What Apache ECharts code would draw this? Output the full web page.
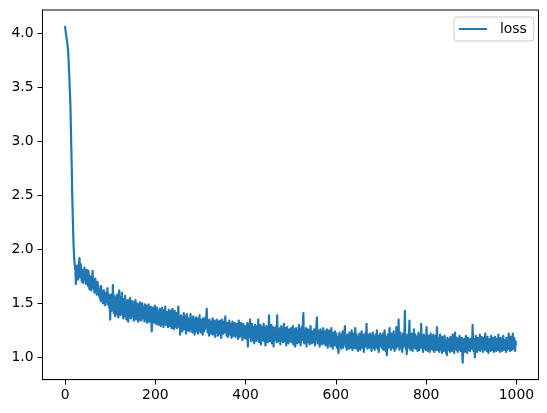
<!DOCTYPE html>
<html>
<head>
<meta charset="utf-8">
<script src="https://cdn.jsdelivr.net/npm/echarts@6.0.0/dist/echarts.min.js"></script>
<style>html,body{margin:0;padding:0;background:#fff;}#chart{width:547px;height:413px;}</style>
</head>
<body>
<div id="chart"></div>
<script>
const seriesName = "loss";
const xTicks = [0, 200, 400, 600, 800, 1000];
const yTicks = [1.0, 1.5, 2.0, 2.5, 3.0, 3.5, 4.0];

const loss000 = [4.06,4.03,4.00,3.97,3.94,3.91,3.87,3.82,3.74,3.64,3.54,3.43,3.32,3.12,2.92,2.72,2.50,2.32,2.16,2.03,1.94,1.88,1.84,1.80,1.68,
1.82,1.76,1.85,1.79,1.72,1.84,1.88,1.92,1.80,1.74,1.86,1.78,1.70,1.81,1.75,1.69,1.80,1.76,1.83,1.72,1.78,1.68,1.77,1.81,1.71,
1.74,1.66,1.80,1.70,1.63,1.75,1.68,1.72,1.62,1.69,1.74,1.80,1.67,1.64,1.71,1.60,1.66,1.73,1.62,1.68,1.58,1.65,1.70,1.61,1.66,
1.57,1.63,1.55,1.60,1.52,1.66,1.58,1.54,1.61,1.50,1.56,1.62,1.53,1.59,1.48,1.55,1.60,1.51,1.57,1.64,1.49,1.54,1.58,1.46,1.52];
const loss100 = [1.35,1.53,1.58,1.43,1.55,1.46,1.67,1.49,1.41,1.57,1.45,1.38,1.55,1.48,1.40,1.58,1.44,1.52,1.37,1.49,1.62,1.42,1.53,1.39,1.56,
1.45,1.60,1.41,1.51,1.36,1.54,1.43,1.38,1.57,1.44,1.52,1.35,1.49,1.40,1.53,1.33,1.46,1.51,1.37,1.55,1.42,1.36,1.50,1.39,1.52,
1.38,1.48,1.34,1.51,1.41,1.37,1.53,1.35,1.47,1.50,1.36,1.46,1.33,1.49,1.40,1.35,1.51,1.38,1.48,1.34,1.44,1.50,1.36,1.47,1.37,
1.46,1.33,1.49,1.39,1.35,1.48,1.41,1.32,1.46,1.37,1.49,1.38,1.33,1.45,1.36,1.47,1.39,1.24,1.40,1.46,1.34,1.44,1.32,1.41,1.48];
const loss200 = [1.35,1.44,1.31,1.40,1.46,1.33,1.42,1.30,1.41,1.33,1.45,1.37,1.29,1.42,1.34,1.46,1.31,1.40,1.28,1.38,1.44,1.32,1.47,1.30,1.39,
1.31,1.42,1.34,1.28,1.40,1.44,1.32,1.29,1.39,1.31,1.43,1.27,1.38,1.45,1.30,1.36,1.26,1.40,1.43,1.31,1.28,1.41,1.33,1.27,1.38,
1.41,1.47,1.33,1.28,1.37,1.21,1.31,1.39,1.27,1.36,1.24,1.37,1.30,1.41,1.26,1.35,1.28,1.38,1.22,1.33,1.40,1.29,1.25,1.36,1.28,
1.35,1.24,1.32,1.40,1.26,1.36,1.29,1.23,1.34,1.38,1.25,1.32,1.21,1.35,1.28,1.37,1.24,1.31,1.36,1.26,1.22,1.34,1.28,1.39,1.25];
const loss300 = [1.33,1.23,1.35,1.27,1.32,1.21,1.36,1.29,1.24,1.34,1.26,1.37,1.30,1.39,1.45,1.29,1.23,1.34,1.27,1.20,1.35,1.29,1.24,1.33,1.22,
1.32,1.26,1.36,1.21,1.30,1.25,1.34,1.28,1.19,1.32,1.25,1.35,1.23,1.31,1.20,1.33,1.27,1.22,1.34,1.25,1.31,1.18,1.29,1.35,1.23,
1.31,1.22,1.33,1.25,1.32,1.38,1.23,1.29,1.20,1.32,1.25,1.19,1.31,1.24,1.34,1.27,1.21,1.31,1.23,1.18,1.29,1.33,1.24,1.20,1.28,
1.22,1.32,1.19,1.27,1.30,1.21,1.31,1.24,1.17,1.28,1.34,1.22,1.19,1.30,1.24,1.32,1.20,1.27,1.16,1.25,1.31,1.21,1.29,1.18,1.26];
const loss400 = [1.22,1.29,1.17,1.27,1.32,1.10,1.24,1.30,1.19,1.28,1.35,1.20,1.15,1.27,1.31,1.21,1.16,1.28,1.23,1.13,1.26,1.30,1.18,1.27,1.15,
1.25,1.29,1.17,1.35,1.22,1.14,1.27,1.20,1.30,1.12,1.26,1.19,1.28,1.16,1.24,1.31,1.15,1.23,1.27,1.11,1.22,1.29,1.17,1.26,1.14,
1.23,1.28,1.39,1.19,1.15,1.26,1.20,1.30,1.13,1.25,1.18,1.28,1.10,1.23,1.27,1.16,1.25,1.19,1.29,1.14,1.39,1.21,1.26,1.15,1.24,
1.18,1.27,1.12,1.22,1.29,1.16,1.25,1.19,1.14,1.26,1.31,1.15,1.23,1.18,1.27,1.11,1.22,1.28,1.16,1.25,1.13,1.21,1.26,1.15,1.24];
const loss500 = [1.19,1.27,1.14,1.24,1.17,1.29,1.12,1.22,1.26,1.15,1.10,1.21,1.27,1.16,1.24,1.13,1.25,1.18,1.30,1.14,1.23,1.26,1.11,1.21,1.28,
1.16,1.24,1.32,1.41,1.18,1.13,1.25,1.19,1.15,1.27,1.10,1.22,1.17,1.26,1.14,1.24,1.18,1.12,1.25,1.29,1.15,1.21,1.13,1.24,1.17,
1.23,1.14,1.26,1.18,1.11,1.24,1.17,1.30,1.37,1.20,1.13,1.25,1.16,1.23,1.10,1.19,1.26,1.14,1.22,1.12,1.24,1.17,1.27,1.13,1.20,
1.16,1.24,1.11,1.21,1.15,1.26,1.17,1.09,1.23,1.16,1.25,1.13,1.20,1.10,1.22,1.27,1.14,1.19,1.08,1.23,1.13,1.21,1.11,1.24,1.16];
const loss600 = [1.13,1.22,1.09,1.19,1.15,1.07,1.04,1.18,1.23,1.11,1.20,1.14,1.08,1.21,1.15,1.24,1.09,1.19,1.12,1.22,1.29,1.16,1.10,1.20,1.07,
1.17,1.21,1.10,1.19,1.08,1.23,1.14,1.20,1.09,1.18,1.25,1.12,1.07,1.19,1.13,1.22,1.09,1.20,1.27,1.15,1.08,1.21,1.12,1.18,1.06,
1.19,1.10,1.22,1.14,1.07,1.20,1.15,1.24,1.09,1.18,1.12,1.21,1.05,1.16,1.20,1.10,1.23,1.16,1.31,1.13,1.08,1.19,1.12,1.21,1.09,
1.18,1.22,1.10,1.16,1.06,1.20,1.13,1.23,1.09,1.19,1.12,1.07,1.18,1.21,1.10,1.16,1.25,1.08,1.14,1.20,1.05,1.17,1.11,1.22,1.12];
const loss700 = [1.17,1.09,1.20,1.12,1.22,1.07,1.18,1.11,1.25,1.14,1.06,1.19,1.08,1.02,1.13,1.21,1.15,1.09,1.20,1.27,1.10,1.18,1.07,1.22,1.13,
1.19,1.09,1.16,1.24,1.12,1.06,1.20,1.14,1.08,1.28,1.17,1.10,1.21,1.15,1.35,1.12,1.07,1.19,1.23,1.09,1.16,1.20,1.05,1.14,1.22,
1.10,1.18,1.24,1.43,1.14,1.08,1.19,1.03,1.12,1.21,1.15,1.09,1.20,1.34,1.13,1.07,1.18,1.11,1.22,1.12,1.06,1.19,1.14,1.26,1.09,
1.17,1.21,1.08,1.15,1.19,1.11,1.06,1.18,1.23,1.12,1.07,1.20,1.14,1.09,1.31,1.16,1.10,1.19,1.05,1.15,1.21,1.08,1.18,1.12,1.07];
const loss800 = [1.17,1.28,1.11,1.06,1.18,1.10,1.20,1.12,1.05,1.16,1.22,1.08,1.15,1.19,1.07,1.13,1.21,1.09,1.05,1.17,1.11,1.20,1.07,1.15,1.28,
1.12,1.07,1.18,1.10,1.05,1.17,1.21,1.08,1.15,1.11,1.04,1.19,1.10,1.17,1.06,1.14,1.20,1.08,1.15,1.04,1.12,1.02,1.18,1.09,1.16,
1.07,1.17,1.11,1.05,1.19,1.10,1.16,1.06,1.14,1.21,1.08,1.17,1.04,1.12,1.23,1.09,1.16,1.07,1.18,1.11,1.05,1.17,1.08,1.14,1.20,
1.10,1.06,1.16,1.08,1.18,1.04,0.95,1.12,1.07,1.17,1.10,1.05,1.15,1.20,1.08,1.14,1.04,1.12,1.18,1.07,1.15,1.10,1.06,1.17,1.11];
const loss900 = [1.08,1.18,1.13,1.30,1.10,1.06,1.17,1.11,1.00,1.15,1.20,1.08,1.14,1.05,1.18,1.10,1.07,1.17,1.11,1.21,1.06,1.14,1.08,1.19,1.10,
1.16,1.05,1.12,1.18,1.07,1.14,1.22,1.08,1.17,1.06,1.13,1.19,1.09,1.04,1.16,1.08,1.17,1.11,1.06,1.20,1.10,1.15,1.07,1.18,1.11,
1.05,1.16,1.09,1.19,1.12,1.06,1.17,1.10,1.14,1.07,1.21,1.09,1.16,1.05,1.14,1.18,1.08,1.12,1.06,1.17,1.10,1.20,1.07,1.14,1.08,
1.16,1.10,1.05,1.18,1.12,1.07,1.17,1.13,1.22,1.08,1.15,1.06,1.12,1.19,1.10,1.07,1.17,1.22,1.11,1.08,1.18,1.13,1.06,1.15,1.12];

const lossValues = [].concat(loss000, loss100, loss200, loss300, loss400, loss500, loss600, loss700, loss800, loss900);
const points = lossValues.map((v, i) => [i, v]);

const FONT = "DejaVu Sans";
const chart = echarts.init(document.getElementById('chart'), null, {renderer: 'canvas'});
chart.setOption({
  animation: false,
  backgroundColor: '#ffffff',
  grid: {
    left: 42.5, right: 8.5, top: 10, bottom: 33.4,
    containLabel: false,
    outerBoundsMode: 'none',
    show: true, borderColor: '#000', borderWidth: 1, backgroundColor: 'transparent'
  },
  legend: {
    left: 454, top: 17,
    padding: [5, 7, 5, 5],
    itemWidth: 28, itemHeight: 2,
    icon: 'rect',
    borderColor: '#cccccc', borderWidth: 1, borderRadius: 3,
    backgroundColor: '#ffffff',
    data: [seriesName],
    formatter: '{a|{name}}',
    textStyle: {
      color: '#000', fontFamily: FONT, fontSize: 13.9,
      rich: { a: { padding: [0, 0, 0, 8], fontFamily: FONT, fontSize: 13.9, color: '#000', lineHeight: 15 } }
    }
  },
  xAxis: {
    type: 'value', min: -49.95, max: 1048.95,
    axisLine: { show: true, onZero: false, lineStyle: { color: '#000', width: 1 } },
    axisTick: { show: true, length: 4.9, lineStyle: { color: '#000', width: 1 }, customValues: xTicks },
    axisLabel: { color: '#000', fontFamily: FONT, fontSize: 13.9, margin: 8.5, customValues: xTicks,
      formatter: v => String(v) },
    splitLine: { show: false }
  },
  yAxis: {
    type: 'value', min: 0.794, max: 4.216,
    axisLine: { show: true, onZero: false, lineStyle: { color: '#000', width: 1 } },
    axisTick: { show: true, length: 4.9, lineStyle: { color: '#000', width: 1 }, customValues: yTicks },
    axisLabel: { color: '#000', fontFamily: FONT, fontSize: 13.9, margin: 9, customValues: yTicks,
      formatter: v => Number(v).toFixed(1) },
    splitLine: { show: false }
  },
  series: [{
    name: seriesName,
    type: 'line',
    data: points,
    symbol: 'none',
    showSymbol: false,
    sampling: null,
    lineStyle: { color: '#1f77b4', width: 2.2, join: 'round', cap: 'round' },
    itemStyle: { color: '#1f77b4' },
    emphasis: { disabled: true }
  }]
});
</script>
</body>
</html>
